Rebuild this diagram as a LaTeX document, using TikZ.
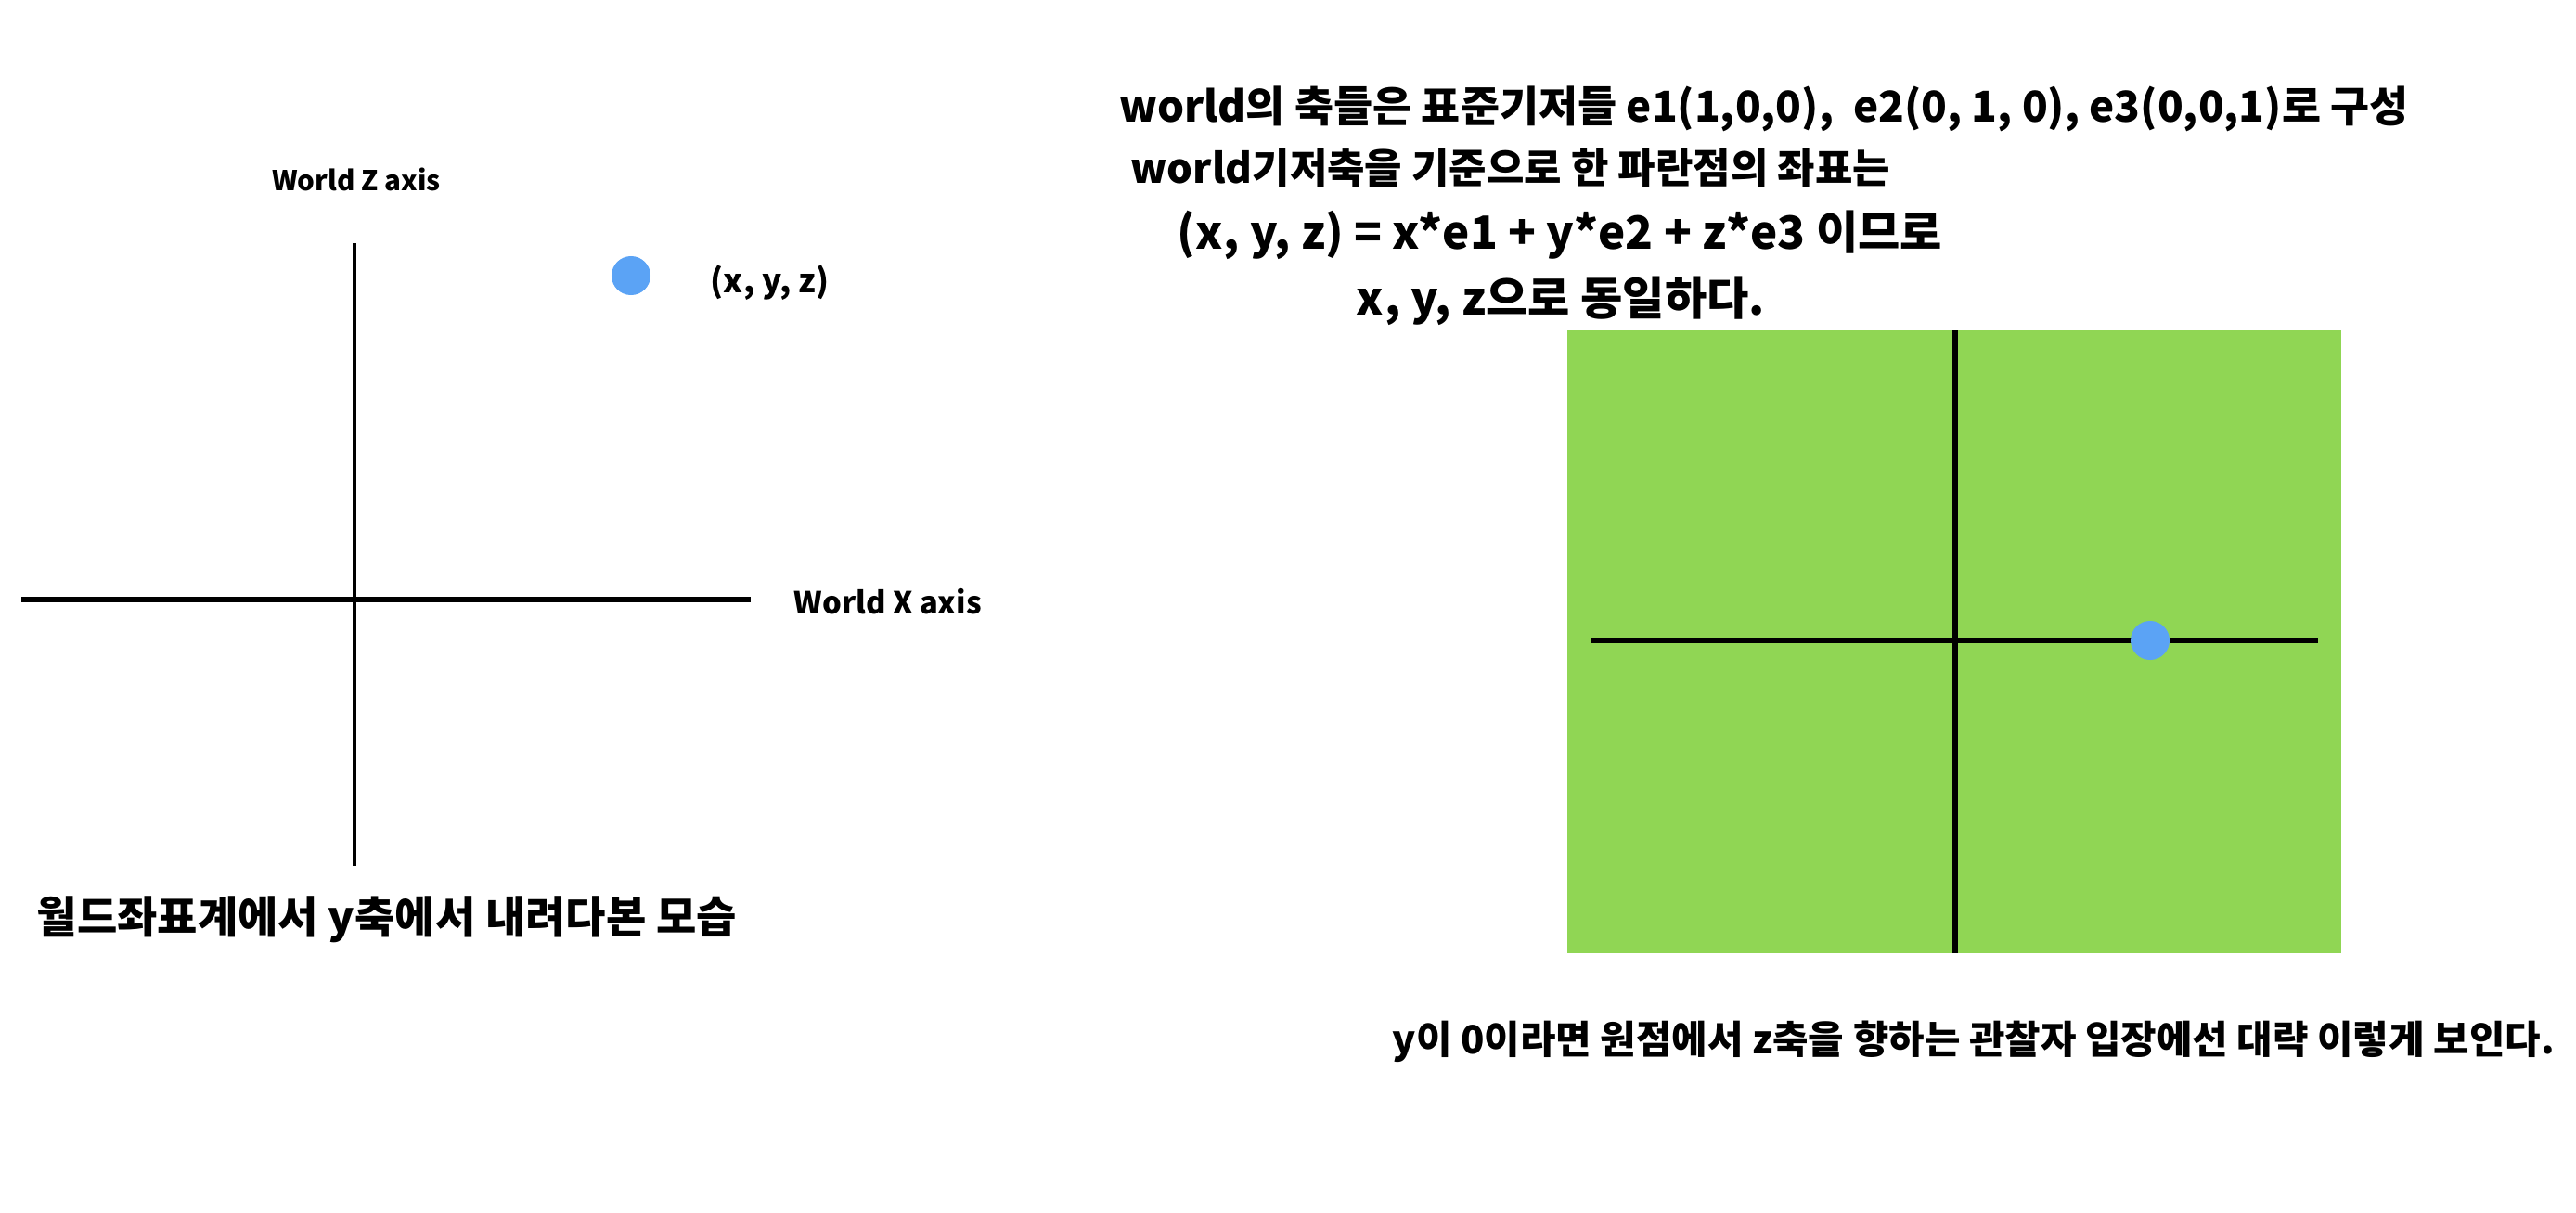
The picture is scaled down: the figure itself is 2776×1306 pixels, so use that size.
\documentclass[tikz,border=0pt]{standalone}
\usepackage{fontspec}
\setmainfont{Noto Sans CJK KR}
\usetikzlibrary{positioning}
\definecolor{planegreen}{RGB}{144, 214, 84}
\definecolor{dotblue}{RGB}{91, 163, 245}

\begin{document}
\begin{tikzpicture}[x=0.01cm, y=-0.01cm,
  axisline/.style={draw=black, line width=1.3pt},
  bluedot/.style={circle, fill=dotblue, inner sep=0pt, minimum size=0.42cm},
  note/.style={inner sep=0pt, anchor=west, font=\bfseries\fontsize{13pt}{16pt}\selectfont},
  axislabel/.style={inner sep=0pt, font=\bfseries\fontsize{8.4pt}{10pt}\selectfont}]
  \useasboundingbox (0,0) rectangle (2776,1306);

  % 왼쪽: y축에서 내려다본 world 좌표계
  \coordinate (zTop) at (382,262);
  \coordinate (zBot) at (382,933);
  \coordinate (xLeft) at (23,646);
  \coordinate (xRight) at (809,646);
  \draw[axisline, line width=1.1pt] (zTop) -- (zBot);
  \draw[axisline, line width=1.7pt] (xLeft) -- (xRight);

  \node[axislabel] (zlabel) at (384,193) {World Z axis};
  \node[axislabel, anchor=west, font=\bfseries\fontsize{9.3pt}{11pt}\selectfont] (xlabel) at (855,648) {World X axis};

  \node[bluedot] (worldpt) at (680,297) {};
  \node[axislabel, anchor=west, font=\bfseries\fontsize{10pt}{12pt}\selectfont] (ptlabel) at (765,305) {(x, y, z)};

  \node[note, font=\bfseries\fontsize{13.4pt}{16pt}\selectfont] (leftcap) at (39,991) {월드좌표계에서 y축에서 내려다본 모습};

  % 오른쪽: 설명
  \node[note] (title1) at (1206,117) {world의 축들은 표준기저들 e1(1,0,0),~ e2(0, 1, 0), e3(0,0,1)로 구성};
  \node[note, font=\bfseries\fontsize{12.5pt}{16pt}\selectfont] (title2) at (1218,181) {world기저축을 기준으로 한 파란점의 좌표는};
  \node[note, font=\bfseries\fontsize{14pt}{16pt}\selectfont] (title3) at (1268,253) {(x, y, z) = x*e1 + y*e2 + z*e3 이므로};
  \node[note, font=\bfseries\fontsize{14pt}{16pt}\selectfont] (title4) at (1461,324) {x, y, z으로 동일하다.};

  % 관찰자 시점 (초록 평면)
  \fill[planegreen] (1689,356) rectangle (2523,1027);
  \coordinate (vTop) at (2107,356);
  \coordinate (vBot) at (2107,1027);
  \coordinate (hLeft) at (1714,690);
  \coordinate (hRight) at (2498,690);
  \draw[axisline, line width=1.6pt] (vTop) -- (vBot);
  \draw[axisline, line width=1.6pt] (hLeft) -- (hRight);
  \node[bluedot] (viewpt) at (2317,690) {};

  \node[note, font=\bfseries\fontsize{11.9pt}{14pt}\selectfont] (rightcap) at (1500,1122) {y이 0이라면 원점에서 z축을 향하는 관찰자 입장에선 대략 이렇게 보인다.};
\end{tikzpicture}
\end{document}
